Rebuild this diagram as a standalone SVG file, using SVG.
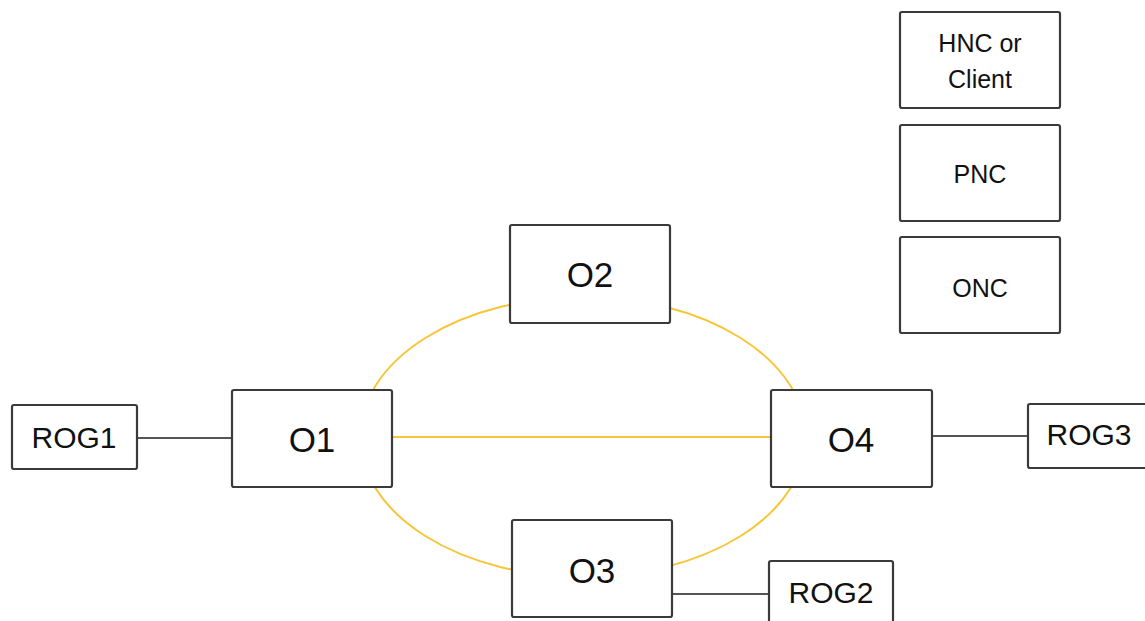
<svg xmlns="http://www.w3.org/2000/svg" width="1145" height="621" viewBox="0 0 1145 621">
<style>
.box{fill:#fff;stroke:#3a3a3a;stroke-width:2.2}
.lbl{font-family:"Liberation Sans",Arial,sans-serif;fill:#111;text-anchor:middle}
.big{font-size:35px}
.mid{font-size:30px}
.sm{font-size:25px}
.gray{stroke:#555;stroke-width:2;fill:none}
.yel{stroke:#F8C53A;stroke-width:2;fill:none}
</style>
<rect width="1145" height="621" fill="#fff"/>
<g id="connectors">
<ellipse class="yel" cx="583" cy="437" rx="223" ry="140"/>
<line class="yel" x1="392" y1="437" x2="771" y2="437"/>
<line class="gray" x1="137" y1="438" x2="232" y2="438"/>
<line class="gray" x1="932" y1="436" x2="1028" y2="436"/>
<line class="gray" x1="672" y1="594" x2="769" y2="594"/>
</g>
<g id="hnc"><rect class="box" x="900" y="12" width="160" height="96" rx="2"/><text class="lbl sm" x="980" y="52">HNC or</text><text class="lbl sm" x="980" y="88">Client</text></g>
<g id="pnc"><rect class="box" x="900" y="125" width="160" height="96" rx="2"/><text class="lbl sm" x="980" y="183">PNC</text></g>
<g id="onc"><rect class="box" x="900" y="237" width="160" height="96" rx="2"/><text class="lbl sm" x="980" y="297">ONC</text></g>
<g id="o2"><rect class="box" x="510" y="225" width="160" height="98" rx="2"/><text class="lbl big" x="590" y="287">O2</text></g>
<g id="o1"><rect class="box" x="232" y="390" width="160" height="97" rx="2"/><text class="lbl big" x="312" y="452">O1</text></g>
<g id="o4"><rect class="box" x="771" y="390" width="161" height="97" rx="2"/><text class="lbl big" x="851" y="452">O4</text></g>
<g id="o3"><rect class="box" x="512" y="520" width="160" height="97" rx="2"/><text class="lbl big" x="592" y="583">O3</text></g>
<g id="rog1"><rect class="box" x="12" y="405" width="125" height="64" rx="2"/><text class="lbl mid" x="74" y="448">ROG1</text></g>
<g id="rog3"><rect class="box" x="1028" y="404" width="125" height="64" rx="2"/><text class="lbl mid" x="1089" y="445">ROG3</text></g>
<g id="rog2"><rect class="box" x="769" y="561" width="124" height="70" rx="2"/><text class="lbl mid" x="831" y="603">ROG2</text></g>
</svg>
